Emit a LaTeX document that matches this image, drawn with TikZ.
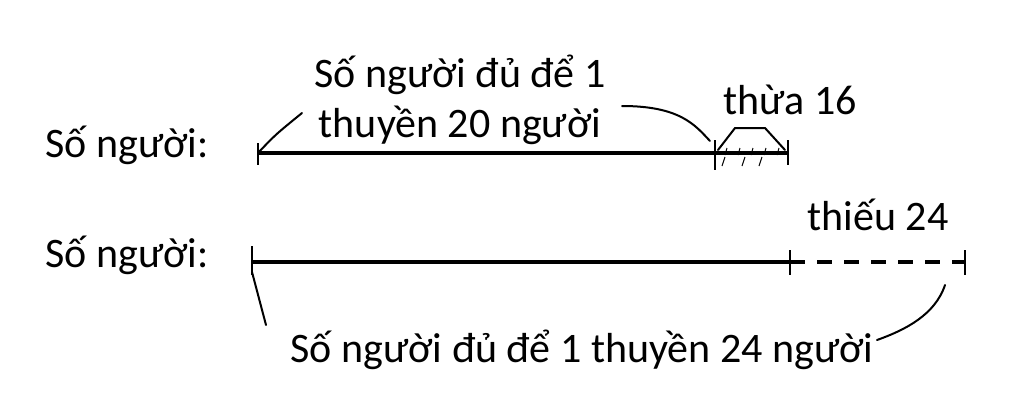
\documentclass[tikz,border=0pt]{standalone}
\usepackage{fontspec}
\setmainfont{Carlito}
\usepackage{tikz}
\usetikzlibrary{positioning,calc}

\begin{document}
\begin{tikzpicture}[x=1pt, y=-1pt,
    lbl/.style={font=\fontsize{42}{50}\selectfont, inner sep=0pt, align=center},
    bar/.style={line width=4pt},
    tick/.style={line width=1.6pt},
    hand/.style={line width=2pt, line cap=round}
]
    \useasboundingbox (0,0) rectangle (1024,400);

    % points on the two bars
    \coordinate (a0) at (258,153);
    \coordinate (a1) at (715,153);
    \coordinate (a2) at (788,153);
    \coordinate (b0) at (252,262);
    \coordinate (b1) at (790,262);
    \coordinate (b2) at (965,262);

    \node[lbl] (row1) at (127,145) {Số người:};
    \node[lbl] (row2) at (127,255) {Số người:};

    % first bar
    \draw[bar] (a0) -- (a2);
    \draw[tick] ($(a0)+(0,-10)$) -- ($(a0)+(0,12)$);
    \draw[tick] ($(a1)+(0,-13)$) -- ($(a1)+(0,17)$);
    \draw[tick] ($(a2)+(0,-13)$) -- ($(a2)+(0,12)$);
    \draw[hand] ($(a1)+(3,-3)$) -- (735,128) -- (765,128) -- ($(a2)+(-3,-3)$);
    \foreach \x in {725,738,751,764,777}
        \draw[line width=1pt] (\x+2,148) -- (\x,155);
    \foreach \x in {723,743,760}
        \draw[line width=1pt] (\x+2,157) -- (\x-1,166);

    \node[lbl] (top) at (460,100) {Số người đủ để 1\\thuyền 20 người};
    \node[lbl] (extra) at (790,100) {thừa 16};
    \draw[hand] (a0) .. controls (275,135) .. (302,113);
    \draw[hand] (622,106) .. controls (680,106) and (695,125) .. ($(a1)+(-5,-12)$);

    % second bar
    \draw[bar] (b0) -- (b1);
    \draw[bar, dash pattern=on 15pt off 12pt] (b1) -- (b2);
    \draw[tick] ($(b0)+(0,-16)$) -- ($(b0)+(0,13)$);
    \draw[tick] ($(b1)+(0,-12)$) -- ($(b1)+(0,13)$);
    \draw[tick] ($(b2)+(0,-12)$) -- ($(b2)+(0,13)$);

    \node[lbl] (short) at (878,215) {thiếu 24};
    \node[lbl] (bottom) at (582,350) {Số người đủ để 1 thuyền 24 người};
    \draw[hand] ($(b0)+(0,10)$) -- (266,325);
    \draw[hand] (945,285) .. controls (935,315) and (905,330) .. (877,340);
\end{tikzpicture}
\end{document}
